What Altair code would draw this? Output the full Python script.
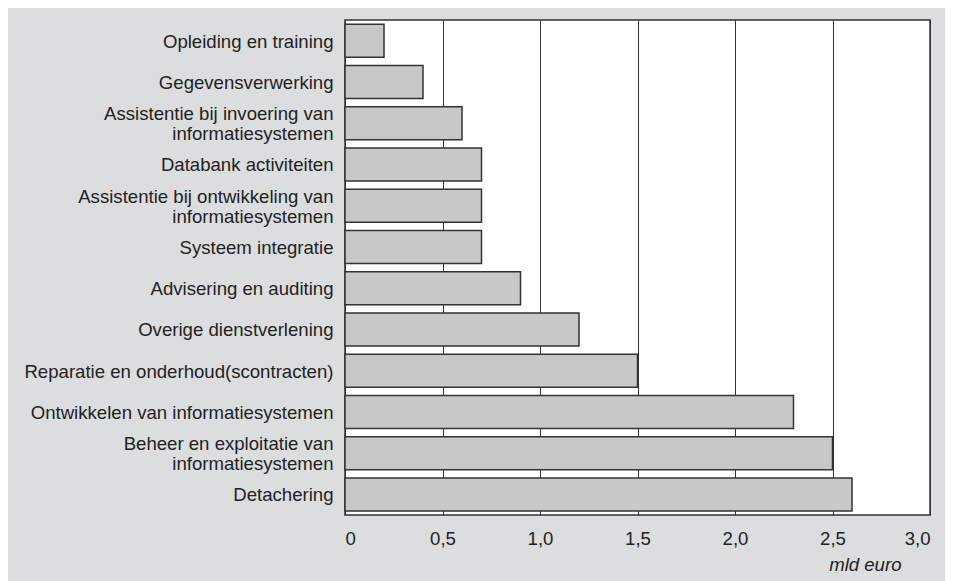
import altair as alt
import pandas as pd

categories = [
    "Opleiding en training",
    "Gegevensverwerking",
    "Assistentie bij invoering van|informatiesystemen",
    "Databank activiteiten",
    "Assistentie bij ontwikkeling van|informatiesystemen",
    "Systeem integratie",
    "Advisering en auditing",
    "Overige dienstverlening ",
    "Reparatie en onderhoud(scontracten)",
    "Ontwikkelen van informatiesystemen",
    "Beheer en exploitatie van|informatiesystemen",
    "Detachering",
]
values = [0.2, 0.4, 0.6, 0.7, 0.7, 0.7, 0.9, 1.2, 1.5, 2.3, 2.5, 2.6]
x_ticks = [0, 0.5, 1.0, 1.5, 2.0, 2.5, 3.0]

df = pd.DataFrame({"cat": categories, "val": values})

FONT = "Liberation Sans"
FS = 18.6

chart = alt.Chart(df).mark_bar(
    color="#c8c8c8", stroke="#333333", strokeWidth=1.5
).encode(
    y=alt.Y("cat:N", sort=categories,
            scale=alt.Scale(paddingInner=0.2, paddingOuter=0.1),
            axis=alt.Axis(title=None, ticks=False, domain=False, labelFontSize=FS,
                          labelFont=FONT, labelColor="#222222", labelPadding=12,
                          labelLineHeight=20, labelLimit=400,
                          labelExpr="split(datum.label, '|')",
                          labelOffset={"condition": {
                              "test": "indexof(datum.value, '|') >= 0", "value": -9},
                              "value": 1})),
    x=alt.X("val:Q", scale=alt.Scale(domain=[0, 3], nice=False),
            axis=alt.Axis(values=x_ticks, title="mld euro", grid=True,
                          gridColor="#333333", gridWidth=1, gridOpacity=1,
                          domain=False, ticks=False,
                          labelFontSize=FS, labelFont=FONT, labelColor="#222222",
                          labelPadding=14,
                          labelExpr="datum.value == 0 ? '0' : replace(format(datum.value, '.1f'), '.', ',')",
                          titleFont=FONT, titleFontSize=FS, titleFontStyle="italic",
                          titleFontWeight="normal", titleColor="#222222",
                          titleAnchor="end", titleAlign="right", titleX=556, titleY=55,
                          titleBaseline="alphabetic")),
).properties(
    width=585, height=495,
    autosize=alt.AutoSizeParams(type="none"),
    padding={"left": 337, "top": 12, "right": 15, "bottom": 66},
    background="#dcdddf",
).configure_view(
    fill="white", stroke="#333333", strokeWidth=1.5
)

chart.save("out.html", embed_options={"renderer": "svg", "actions": False})
